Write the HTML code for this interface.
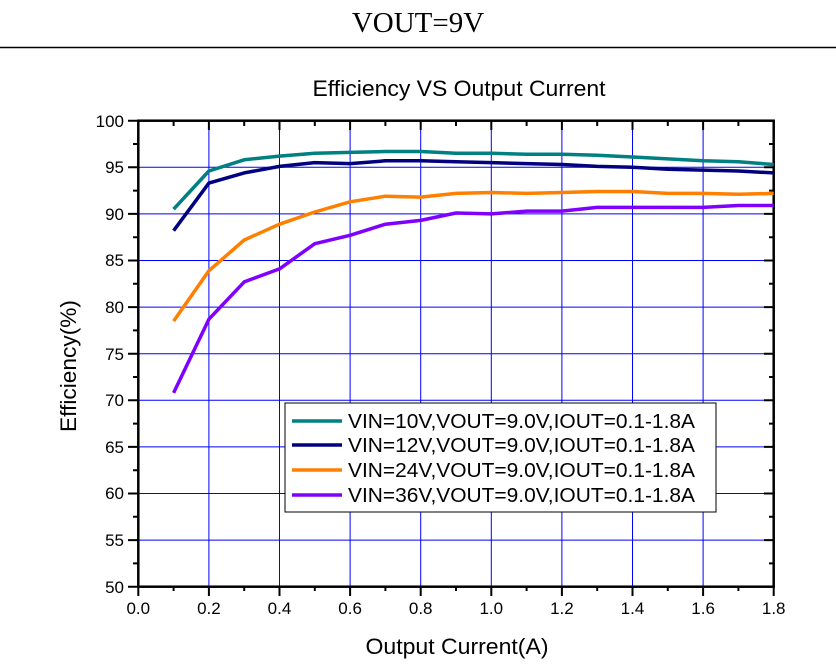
<!DOCTYPE html>
<html><head><meta charset="utf-8"><style>
body{margin:0;background:#fff;width:836px;height:665px;overflow:hidden}
</style></head><body>
<svg width="836" height="665" xmlns="http://www.w3.org/2000/svg" font-family="Liberation Sans, Arial, sans-serif">
<text x="418" y="32" text-anchor="middle" font-family="Liberation Serif, serif" font-size="29">VOUT=9V</text>
<line x1="0" y1="47.5" x2="836" y2="47.5" stroke="#000" stroke-width="1.5"/>
<text x="459" y="96" text-anchor="middle" font-size="22" textLength="293" lengthAdjust="spacingAndGlyphs">Efficiency VS Output Current</text>
<g stroke="#0000ff" stroke-width="1">
<line x1="208.9" y1="121" x2="208.9" y2="586"/><line x1="279.5" y1="121" x2="279.5" y2="586"/><line x1="350.1" y1="121" x2="350.1" y2="586"/><line x1="420.7" y1="121" x2="420.7" y2="586"/><line x1="491.3" y1="121" x2="491.3" y2="586"/><line x1="561.9" y1="121" x2="561.9" y2="586"/><line x1="632.5" y1="121" x2="632.5" y2="586"/><line x1="703.1" y1="121" x2="703.1" y2="586"/>
<line x1="138" y1="167.3" x2="774" y2="167.3"/><line x1="138" y1="213.9" x2="774" y2="213.9"/><line x1="138" y1="260.5" x2="774" y2="260.5"/><line x1="138" y1="307.1" x2="774" y2="307.1"/><line x1="138" y1="353.7" x2="774" y2="353.7"/><line x1="138" y1="400.3" x2="774" y2="400.3"/><line x1="138" y1="446.9" x2="774" y2="446.9"/><line x1="138" y1="493.5" x2="774" y2="493.5"/><line x1="138" y1="540.1" x2="774" y2="540.1"/>
</g>
<rect x="138.3" y="120.7" width="635.4" height="466" fill="none" stroke="#000" stroke-width="2.5"/>
<path stroke="#000" stroke-width="2" fill="none" d="
M138.3 586v10M208.9 586v10M279.5 586v10M350.1 586v10M420.7 586v10M491.3 586v10M561.9 586v10M632.5 586v10M703.1 586v10M773.7 586v10
M173.6 586v5M244.2 586v5M314.8 586v5M385.4 586v5M456 586v5M526.6 586v5M597.2 586v5M667.8 586v5M738.4 586v5
M208.9 121v9M279.5 121v9M350.1 121v9M420.7 121v9M491.3 121v9M561.9 121v9M632.5 121v9M703.1 121v9
M173.6 121v5M244.2 121v5M314.8 121v5M385.4 121v5M456 121v5M526.6 121v5M597.2 121v5M667.8 121v5M738.4 121v5
M128 120.7h10M128 167.3h10M128 213.9h10M128 260.5h10M128 307.1h10M128 353.7h10M128 400.3h10M128 446.9h10M128 493.5h10M128 540.1h10M128 586.7h10
M133 144h5M133 190.6h5M133 237.2h5M133 283.8h5M133 330.4h5M133 377h5M133 423.6h5M133 470.2h5M133 516.8h5M133 563.4h5
M764 167.3h10M764 213.9h10M764 260.5h10M764 307.1h10M764 353.7h10M764 400.3h10M764 446.9h10M764 493.5h10M764 540.1h10
M769 144h5M769 190.6h5M769 237.2h5M769 283.8h5M769 330.4h5M769 377h5M769 423.6h5M769 470.2h5M769 516.8h5M769 563.4h5"/>
<g font-size="17" text-anchor="end">
<text x="124" y="127">100</text><text x="124" y="173">95</text><text x="124" y="220">90</text><text x="124" y="266">85</text><text x="124" y="313">80</text><text x="124" y="360">75</text><text x="124" y="406">70</text><text x="124" y="453">65</text><text x="124" y="499">60</text><text x="124" y="546">55</text><text x="124" y="593">50</text>
</g>
<g font-size="17" text-anchor="middle">
<text x="138.3" y="614">0.0</text><text x="208.9" y="614">0.2</text><text x="279.5" y="614">0.4</text><text x="350.1" y="614">0.6</text><text x="420.7" y="614">0.8</text><text x="491.3" y="614">1.0</text><text x="561.9" y="614">1.2</text><text x="632.5" y="614">1.4</text><text x="703.1" y="614">1.6</text><text x="773.7" y="614">1.8</text>
</g>
<g fill="none" stroke-width="3.5" stroke-linejoin="round">
<polyline stroke="#008080" points="173.6,209.2 208.9,171 244.2,159.8 279.5,156.1 314.8,153.3 350.1,152.4 385.4,151.5 420.7,151.5 456,153.3 491.3,153.3 526.6,154.3 561.9,154.3 597.2,155.2 632.5,157 667.8,158.9 703.1,160.8 738.4,161.8 773.7,164.5"/>
<polyline stroke="#000080" points="173.6,230.7 208.9,183.1 244.2,172.9 279.5,166.4 314.8,162.6 350.1,163.6 385.4,160.8 420.7,160.8 456,161.7 491.3,162.6 526.6,163.6 561.9,164.5 597.2,166.4 632.5,167.3 667.8,169.2 703.1,170.1 738.4,171 773.7,172.9"/>
<polyline stroke="#ff8000" points="173.6,321.1 208.9,270.8 244.2,240 279.5,224.2 314.8,212 350.1,201.8 385.4,196.2 420.7,197.1 456,193.4 491.3,192.5 526.6,193.4 561.9,192.5 597.2,191.5 632.5,191.5 667.8,193.4 703.1,193.4 738.4,194.3 773.7,193.4"/>
<polyline stroke="#8000ff" points="173.6,392.9 208.9,319.2 244.2,281.9 279.5,268.9 314.8,243.7 350.1,235.3 385.4,224.2 420.7,220.4 456,213 491.3,213.9 526.6,211.1 561.9,211.1 597.2,207.4 632.5,207.4 667.8,207.4 703.1,207.4 738.4,205.5 773.7,205.5"/>
</g>
<rect x="285" y="403" width="431" height="109" fill="#fff" stroke="#000" stroke-width="1"/>
<g font-size="20">
<line x1="292" y1="421" x2="342" y2="421" stroke="#008080" stroke-width="3.5"/><text x="348" y="428" textLength="347" lengthAdjust="spacingAndGlyphs">VIN=10V,VOUT=9.0V,IOUT=0.1-1.8A</text>
<line x1="292" y1="445" x2="342" y2="445" stroke="#000080" stroke-width="3.5"/><text x="348" y="452" textLength="347" lengthAdjust="spacingAndGlyphs">VIN=12V,VOUT=9.0V,IOUT=0.1-1.8A</text>
<line x1="292" y1="470" x2="342" y2="470" stroke="#ff8000" stroke-width="3.5"/><text x="348" y="477" textLength="347" lengthAdjust="spacingAndGlyphs">VIN=24V,VOUT=9.0V,IOUT=0.1-1.8A</text>
<line x1="292" y1="495" x2="342" y2="495" stroke="#8000ff" stroke-width="3.5"/><text x="348" y="502" textLength="347" lengthAdjust="spacingAndGlyphs">VIN=36V,VOUT=9.0V,IOUT=0.1-1.8A</text>
</g>
<text x="457" y="654" text-anchor="middle" font-size="22" textLength="183" lengthAdjust="spacingAndGlyphs">Output Current(A)</text>
<text transform="translate(76,366) rotate(-90)" text-anchor="middle" font-size="22" textLength="132" lengthAdjust="spacingAndGlyphs">Efficiency(%)</text>
</svg>
</body></html>
